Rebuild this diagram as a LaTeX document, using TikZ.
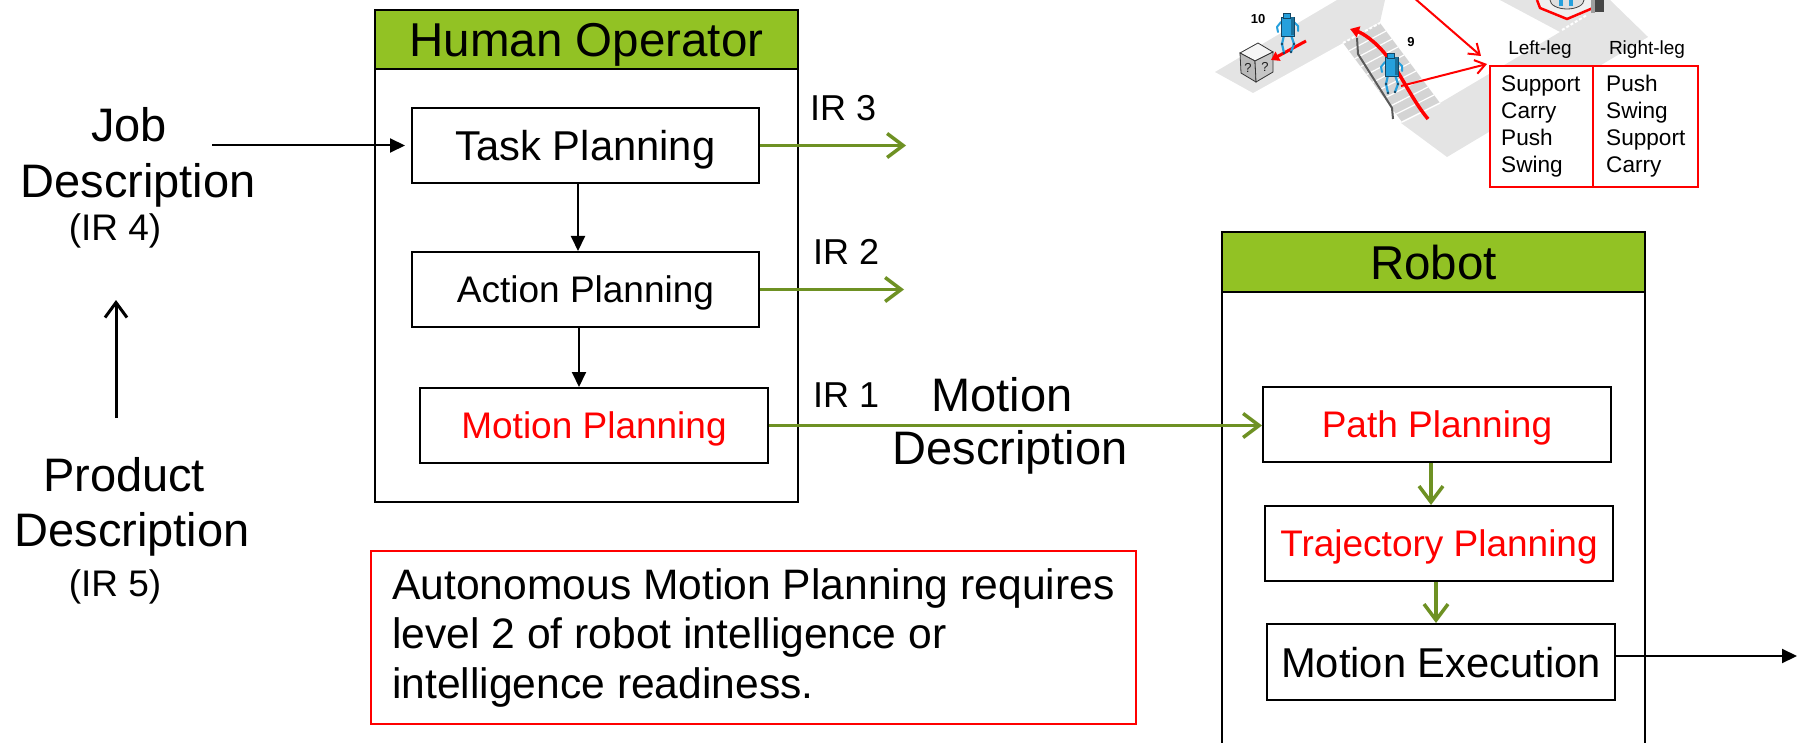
\documentclass[tikz,border=0pt]{standalone}
\usepackage{fontspec}
\setmainfont{Liberation Sans}
\usetikzlibrary{arrows.meta,calc}
\definecolor{hdrgreen}{RGB}{146,194,36}
\definecolor{flowgreen}{RGB}{110,145,35}
\definecolor{floorgray}{RGB}{228,228,228}
\definecolor{stairgray}{RGB}{212,212,212}
\definecolor{botblue}{RGB}{38,160,220}
\definecolor{botdark}{RGB}{20,70,100}

\tikzset{
  minibot/.pic={
    % legs
    \draw[botblue, line width=2.2pt, line cap=round, line join=round] (3,18) -- (1,27) -- (3,36);
    \draw[botblue, line width=2.2pt, line cap=round, line join=round] (10,18) -- (13,27) -- (10,35);
    \fill[botdark] (1,27) circle[radius=1.4pt] (13,27) circle[radius=1.4pt]
                   (3,36) circle[radius=1.4pt] (10,35) circle[radius=1.4pt];
    % arms
    \draw[botblue, line width=2pt, line cap=round, line join=round] (0,5) -- (-4,10) -- (-3,15);
    \draw[botblue, line width=2pt, line cap=round, line join=round] (13,5) -- (17,9) -- (17,14);
    % torso and head
    \filldraw[fill=botblue, draw=botdark, line width=0.8pt] (0,0) rectangle (13,19);
    \fill[botblue!70!black] (9.5,0.5) rectangle (12.5,18.5);
    \filldraw[fill=botblue, draw=botdark, line width=0.8pt] (2,-4) rectangle (9,1);
  }
}

\begin{document}
\begin{tikzpicture}[x=1pt,y=-1pt,
  outerbox/.style={draw=black, line width=2pt, inner sep=0pt, minimum width=423pt},
  headbox/.style={draw=black, line width=2pt, fill=hdrgreen, inner sep=0pt,
    minimum width=423pt, text depth=0pt, font=\fontsize{47.5pt}{57pt}\selectfont},
  procbox/.style={draw=black, line width=2pt, fill=white, inner sep=0pt,
    minimum height=75pt, text depth=0pt},
  bigtxt/.style={font=\fontsize{41.7pt}{50pt}\selectfont},
  midtxt/.style={font=\fontsize{37pt}{44pt}\selectfont},
  desc/.style={inner sep=0pt, font=\fontsize{47pt}{56pt}\selectfont},
  smalltxt/.style={inner sep=0pt, font=\fontsize{37pt}{44pt}\selectfont},
  irlabel/.style={inner sep=0pt, anchor=west, font=\fontsize{36pt}{43pt}\selectfont},
  tabtxt/.style={inner sep=0pt, anchor=west, align=left, font=\fontsize{22.6pt}{27pt}\selectfont},
  tabhead/.style={inner sep=0pt, font=\fontsize{19pt}{22pt}\selectfont},
  cellbox/.style={draw=red, line width=1.5pt, fill=white, inner sep=0pt, minimum height=121pt},
  blackflow/.style={draw=black, line width=2pt, -{Triangle[length=15pt,width=14pt]}},
  uparrow/.style={draw=black, line width=3pt, -{Straight Barb[length=15pt,width=22pt]}},
  greenflow/.style={draw=flowgreen, line width=3.5pt, -{Straight Barb[length=16pt,width=24pt]}},
  redarrow/.style={draw=red, line width=2pt, -{Straight Barb[length=10pt,width=14pt]}},
]
\useasboundingbox (0,0) rectangle (1806,743);
\clip (0,0) rectangle (1806,743);

% ---------- walking-robot sketch (top right) ----------
% upper landing
\fill[floorgray] (1215,72) -- (1337,0) -- (1385,0) -- (1380,22) -- (1343,43) -- (1253,93) -- cycle;
% staircase
\fill[stairgray] (1343,43) -- (1380,23) -- (1440,103) -- (1402,122) -- cycle;
\foreach \t in {0.1,0.2,0.3,0.4,0.5,0.6,0.7,0.8,0.9}
  \draw[white, line width=1.2pt] ($(1343,43)!\t!(1402,122)$) -- ($(1380,23)!\t!(1440,103)$);
% lower landing and passage
\fill[floorgray] (1401,123) -- (1440,103) -- (1560,32) -- (1500,0) -- (1610,0) -- (1648,37) -- (1447,157) -- cycle;
\draw[white, line width=2pt, dash pattern=on 3pt off 2pt] (1343,43) -- (1380,23);
\draw[white, line width=2pt, dash pattern=on 3pt off 2pt] (1562,30) -- (1587,15);
\draw[white, line width=1.5pt] (1402,122) -- (1440,103);
% platform with hexagon and door
\fill[gray!12] (1537,0) -- (1540,8) -- (1567,19) -- (1593,8) -- (1595,0) -- cycle;
\filldraw[fill=gray!25, draw=gray!50!black, line width=0.8pt] (1567,0) ellipse[x radius=17pt, y radius=9pt];
\fill[botblue] (1559,0) rectangle (1563,6);
\fill[botblue] (1569,0) rectangle (1573,6);
\draw[red, line width=2.5pt, line join=round] (1537,0) -- (1540,8) -- (1567,19) -- (1593,8) -- (1595,0);
\fill[gray!55!black] (1591,0) rectangle (1604,12);
\fill[gray!75] (1591,0) rectangle (1595,13);
% handrail
\draw[gray!70!black, line width=2pt, line join=round] (1357,38) -- (1358,54) -- (1392,108) -- (1393,119);
% crate with question marks
\filldraw[fill=gray!8, draw=gray!40!black, line width=0.8pt] (1240,53) -- (1258,43) -- (1273,52) -- (1255,61) -- cycle;
\filldraw[fill=gray!55, draw=gray!40!black, line width=0.8pt] (1240,53) -- (1255,61) -- (1256,82) -- (1241,73) -- cycle;
\filldraw[fill=gray!45, draw=gray!40!black, line width=0.8pt] (1255,61) -- (1273,52) -- (1273,72) -- (1256,82) -- cycle;
\node[inner sep=0pt, text=gray!25!black, font=\fontsize{13pt}{14pt}\selectfont] (qa) at (1248,68) {?};
\node[inner sep=0pt, text=gray!25!black, font=\fontsize{13pt}{14pt}\selectfont] (qb) at (1265,67) {?};
% motion paths
\draw[red, line width=3pt, -{Triangle[length=8pt,width=10pt]}] (1306,41) -- (1271,60);
\draw[red, line width=3.5pt, -{Triangle[length=9pt,width=11pt]}]
  (1428,119) .. controls (1412,100) and (1400,72) .. (1386,55)
             .. controls (1374,40) and (1362,33) .. (1350,29);
% robots
\pic at (1281,17) {minibot};
\pic at (1385,57) {minibot};
\node[inner sep=0pt, font=\bfseries\fontsize{13pt}{15pt}\selectfont] (n10) at (1258,19) {10};
\node[inner sep=0pt, font=\bfseries\fontsize{13pt}{15pt}\selectfont] (n9) at (1411,42) {9};

% leg-phase table
\node[cellbox, minimum width=103pt] (lcell) at (1541.5,126.5) {};
\node[cellbox, minimum width=105pt] (rcell) at (1645.5,126.5) {};
\node[tabtxt] (ltext) at (1501,126) {Support\\Carry\\Push\\Swing};
\node[tabtxt] (rtext) at (1606,126) {Push\\Swing\\Support\\Carry};
\node[tabhead] (lhead) at (1540,50) {Left-leg};
\node[tabhead] (rhead) at (1647,50) {Right-leg};
\coordinate (ra1s) at (1413,-3);
\coordinate (ra1e) at (1481,56);
\draw[redarrow] (ra1s) -- (ra1e);
\coordinate (ra2s) at (1401,86);
\coordinate (ra2e) at (1487,64);
\draw[redarrow] (ra2s) -- (ra2e);

% ---------- Human Operator ----------
\node[outerbox, minimum height=492pt] (ho) at (586.5,256) {};
\node[headbox, minimum height=59pt, anchor=north] (hohead) at (ho.north) {Human Operator};
\node[procbox, bigtxt, minimum width=347pt] (task) at (585.5,145.5) {Task Planning};
\node[procbox, midtxt, minimum width=347pt] (action) at (585.5,289.5) {Action Planning};
\node[procbox, midtxt, text=red, minimum width=348pt] (motion) at (594,425.5) {Motion Planning};

% ---------- Robot ----------
\node[outerbox, minimum height=528pt] (rb) at (1433.5,496) {};
\node[headbox, minimum height=60pt, anchor=north] (rbhead) at (rb.north) {Robot};
\node[procbox, midtxt, text=red, minimum width=348pt] (path) at (1437,424.5) {Path Planning};
\node[procbox, midtxt, text=red, minimum width=348pt] (traj) at (1439,543.5) {Trajectory Planning};
\node[procbox, bigtxt, minimum width=348pt, minimum height=76pt] (exec) at (1441,662) {Motion Execution};

% ---------- descriptions ----------
\node[desc] (job) at (129,125) {Job};
\node[desc] (jobd) at (138,185) {Description};
\node[smalltxt] (ir4) at (115,231) {(IR 4)};
\node[desc] (prod) at (124,475) {Product};
\node[desc] (prodd) at (132,534) {Description};
\node[smalltxt] (ir5) at (115,587) {(IR 5)};
\node[desc] (mdesc) at (1002,395) {Motion};
\node[desc] (mdescb) at (1010,452) {Description};
\node[irlabel] (ir3) at (810,108) {IR 3};
\node[irlabel] (ir2) at (813,252) {IR 2};
\node[irlabel] (ir1) at (813,395) {IR 1};

% ---------- note ----------
\node[draw=red, line width=1.5pt, inner sep=0pt, minimum width=765pt, minimum height=173pt] (notebox) at (753.5,637.5) {};
\node[anchor=west, align=left, inner sep=0pt, font=\fontsize{42.6pt}{49.5pt}\selectfont] (notetext) at (392,637.5)
  {Autonomous Motion Planning requires\\level 2 of robot intelligence or\\intelligence readiness.};

% ---------- connectors ----------
\coordinate (jobout) at (212,145.5);
\draw[blackflow] (jobout) -- ([xshift=-6pt]task.west);
\coordinate (upstart) at (116,418);
\coordinate (upend) at (116,300);
\draw[uparrow] (upstart) -- (upend);
\draw[blackflow] ([xshift=-7.5pt]task.south) -- ([xshift=-7.5pt]task.south |- action.north);
\draw[blackflow] ([xshift=-6.5pt]action.south) -- ([xshift=-6.5pt]action.south |- motion.north);
\coordinate (ir3end) at (906,145.5);
\coordinate (ir2end) at (904,289.5);
\draw[greenflow] (task.east) -- (ir3end);
\draw[greenflow] (action.east) -- (ir2end);
\draw[greenflow] (motion.east) -- (motion.east -| path.west);
\draw[greenflow] ([xshift=-6pt]path.south) -- ([xshift=-6pt]path.south |- traj.north);
\draw[greenflow] ([xshift=-3pt]traj.south) -- ([xshift=-3pt]traj.south |- exec.north);
\coordinate (outend) at (1797,656);
\draw[blackflow] ([yshift=6pt]exec.east) -- (outend);
\end{tikzpicture}
\end{document}
